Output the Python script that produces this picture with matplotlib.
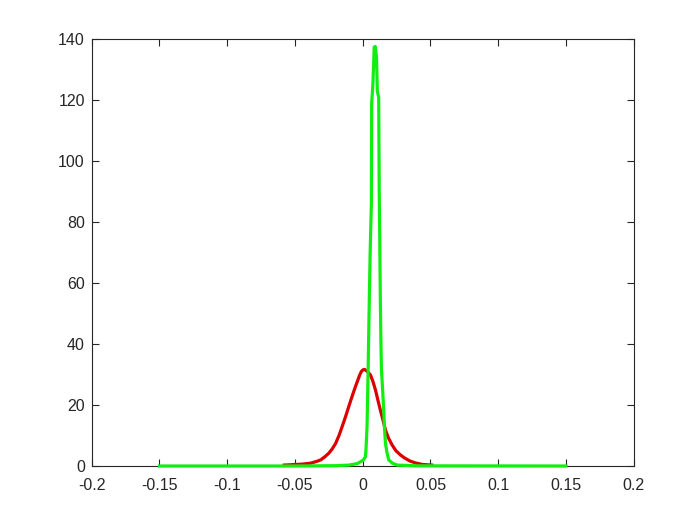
import matplotlib.pyplot as plt
import numpy as np

# red curve, points
red_x = [-0.058, -0.045, -0.0387, -0.034, -0.031, -0.028, -0.025, -0.0225, -0.020,
         -0.0175, -0.0152, -0.0128, -0.0103, -0.0075, -0.0054, -0.0035, -0.0022,
         -0.001, 0.0, 0.0013, 0.003, 0.0057, 0.0075, 0.0094, 0.011, 0.013, 0.015,
         0.0168, 0.019, 0.0217, 0.0245, 0.0279, 0.031, 0.035, 0.039, 0.044, 0.051]
red_y = [0.3, 0.6, 0.9, 1.5, 2.0, 3.0, 4.2, 5.6, 7.4,
         10.0, 12.9, 16.0, 19.5, 23.3, 26.0, 28.3, 29.9,
         31.0, 31.5, 31.7, 31.2, 29.9, 27.8, 25.0, 22.0, 18.4, 15.0,
         11.8, 9.2, 6.9, 5.0, 3.6, 2.6, 1.6, 1.0, 0.5, 0.3]

# green curve, points
green_x = [-0.15, -0.05, -0.02, -0.01, -0.004, 0.0, 0.001, 0.002, 0.0025, 0.0032,
           0.0036, 0.004, 0.0045, 0.005, 0.0055, 0.006, 0.0064, 0.0066, 0.0075,
           0.0085, 0.0093, 0.0102, 0.0108, 0.0118, 0.0122, 0.0125, 0.013, 0.0134,
           0.0138, 0.0147, 0.0155, 0.016, 0.0168, 0.018, 0.0192, 0.022, 0.0254,
           0.04, 0.15]
green_y = [0.0, 0.0, 0.1, 0.3, 0.8, 1.8, 2.3, 3.0, 6.0, 12.9,
           22.0, 31.5, 45.0, 58.0, 70.0, 79.0, 86.0, 119.0, 125.0,
           137.5, 137.7, 134.0, 123.0, 121.0, 90.0, 78.0, 55.0, 42.0,
           32.0, 25.0, 18.4, 13.0, 7.4, 4.2, 2.0, 0.9, 0.3,
           0.05, 0.0]

xticks = [-0.2, -0.15, -0.1, -0.05, 0, 0.05, 0.1, 0.15, 0.2]
xlabels = ['-0.2', '-0.15', '-0.1', '-0.05', '0', '0.05', '0.1', '0.15', '0.2']
yticks = list(range(0, 141, 20))

plt.rcParams['font.family'] = ['Liberation Sans', 'DejaVu Sans']

fig = plt.figure(figsize=(7, 5.25), dpi=100)
ax = fig.add_axes([0.131, 0.1124, 0.7743, 0.8124])

ax.plot(red_x, red_y, color='#dd0000', lw=2.3, clip_on=False, zorder=3,
        solid_joinstyle='round')
ax.plot(green_x, green_y, color='#11ee11', lw=2.3, clip_on=False, zorder=4,
        solid_joinstyle='round')

ax.set_xlim(-0.2, 0.2)
ax.set_ylim(0, 140)
ax.set_xticks(xticks)
ax.set_xticklabels(xlabels)
ax.set_yticks(yticks)

dark = '#262626'
for s in ax.spines.values():
    s.set_color(dark)
    s.set_linewidth(0.8)
ax.tick_params(direction='in', length=5, width=0.8, colors=dark, labelsize=11.5,
               top=True, right=True, pad=5)
ax.tick_params(axis='x', pad=9)

fig.savefig('out.png', dpi=100)
